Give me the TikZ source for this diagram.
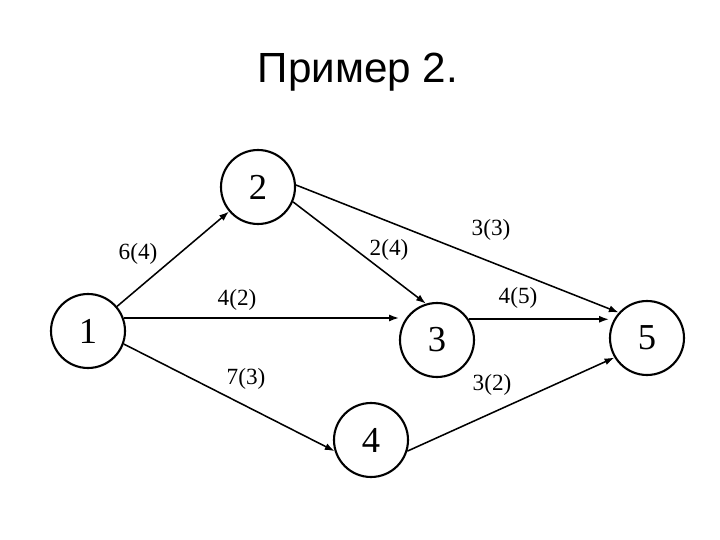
\documentclass[tikz,border=0pt]{standalone}
\usepackage{fontspec}
\setmainfont{Liberation Serif}
\newfontfamily\titlefont{Liberation Sans}
\usepackage{tikz}
\usetikzlibrary{arrows.meta}

\begin{document}
\begin{tikzpicture}[
  >={Latex[length=7pt,width=5pt]},
  vertex/.style={draw, circle, line width=1.5pt, minimum size=1.85cm, inner sep=0pt,
                 font=\fontsize{26}{26}\selectfont},
  arc/.style={->, line width=1.1pt},
  weight/.style={inner sep=0pt, font=\fontsize{16.5}{16.5}\selectfont}
]
\useasboundingbox (0,0) rectangle (18,13.5);

% --- Title ---
\node[anchor=base, font=\titlefont\fontsize{30}{30}\selectfont] (title) at (8.95,11.425) {Пример 2.};

% --- Vertices ---
\node[vertex] (n1) at (2.2,5.225) {1};
\node[vertex] (n2) at (6.45,8.825) {2};
\node[vertex] (n3) at (10.925,5.0) {3};
\node[vertex] (n4) at (9.275,2.5) {4};
\node[vertex] (n5) at (16.175,5.05) {5};

% --- Arcs ---
\draw[arc] (n1) -- (n2);
\draw[arc] (n1.20) -- (n1.20 -| n3.west);
\draw[arc] (n1.-20) -- (n4.197);
\draw[arc] (n2.-23) -- (n3.107);
\draw[arc] (n2.3) -- (n5.138);
\draw[arc] (n3.33) -- (n3.33 -| n5.west);
\draw[arc] (n4.-17) -- (n5.211);

% --- Weights ---
\node[weight] (w12) at (3.45,7.15) {6(4)};
\node[weight] (w13) at (5.925,6.0) {4(2)};
\node[weight] (w14) at (6.15,4.025) {7(3)};
\node[weight] (w23) at (9.725,7.25) {2(4)};
\node[weight] (w25) at (12.275,7.75) {3(3)};
\node[weight] (w35) at (12.95,6.05) {4(5)};
\node[weight] (w45) at (12.3,3.875) {3(2)};

\end{tikzpicture}
\end{document}
